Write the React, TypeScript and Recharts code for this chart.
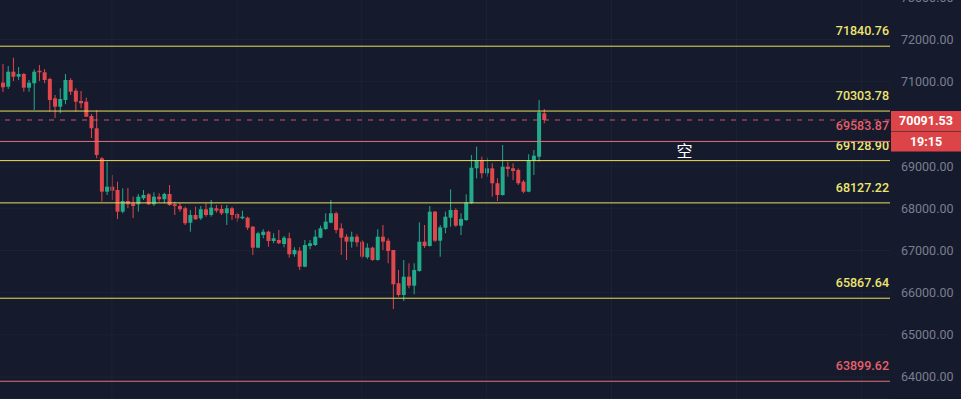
import { ComposedChart, Bar, XAxis, YAxis, CartesianGrid, ReferenceLine, ReferenceDot } from 'recharts'

const opens = [
  70976, 70881, 71237, 71118, 71182, 70858, 70962, 71260, 71222, 71064,
  70606, 70407, 70566, 71040, 70786, 70542, 70526, 70187, 69895, 69184,
  68393, 68511, 68433, 67919, 68172, 68118, 68094, 68236, 68331, 68094,
  68274, 68213, 68338, 68094, 68054, 67999, 67658, 67840, 67762, 67976,
  67840, 67999, 67983, 67881, 67999, 67864, 67762, 67777, 67563, 67066,
  67366, 67445, 67224, 67248, 67153, 67288, 66909, 66994, 66615, 67106,
  67129, 67303, 67509, 67658, 67881, 67525, 67326, 67208, 67326, 67208,
  66838, 67066, 66774, 67326, 67231, 67011, 66222, 65944, 66378, 66165,
  66513, 67208, 67106, 67919, 67231, 67540, 67777, 67959, 67587, 67722,
  68118, 68947, 69144, 68829, 68947, 68592, 68314, 68985, 68947, 68907,
  68630, 68393, 69120, 69222, 70251,
]
const closes = [
  70867, 71237, 71118, 71182, 70858, 70976, 71237, 71222, 71040, 70566,
  70407, 70590, 71040, 70763, 70526, 70488, 70170, 69895, 69262, 68393,
  68511, 68416, 67919, 68172, 68094, 68054, 68274, 68314, 68094, 68274,
  68213, 68338, 68077, 68054, 67976, 67644, 67840, 67739, 67976, 67840,
  68014, 67942, 67881, 67999, 67840, 67762, 67800, 67540, 67066, 67407,
  67445, 67224, 67288, 67170, 67303, 66909, 67011, 66615, 67129, 67170,
  67326, 67525, 67682, 67881, 67485, 67303, 67208, 67326, 67193, 66852,
  67066, 66774, 67326, 67208, 66987, 66198, 65944, 66378, 66165, 66537,
  67208, 67106, 67919, 67231, 67549, 67800, 67959, 67587, 67746, 68141,
  68962, 69144, 68829, 68947, 68592, 68314, 68985, 68931, 68883, 68592,
  68393, 69144, 69246, 70274, 70091.53,
]
const highs = [
  71419, 71372, 71569, 71348, 71206, 71040, 71294, 71395, 71301, 71095,
  70684, 70843, 71182, 71080, 70843, 70779, 70621, 70234, 70329, 69215,
  69104, 68788, 68630, 68473, 68480, 68274, 68338, 68433, 68362, 68378,
  68355, 68369, 68551, 68156, 68118, 68037, 67959, 68037, 68054, 68118,
  68196, 68077, 68077, 68077, 68037, 67895, 67942, 67800, 67580, 67445,
  67502, 67468, 67407, 67485, 67343, 67421, 67075, 67075, 67248, 67248,
  67485, 67587, 67881, 68196, 67919, 67644, 67383, 67445, 67383, 67248,
  67170, 67089, 67502, 67603, 67288, 67011, 66537, 66774, 66696, 66696,
  67667, 67603, 68054, 67935, 67603, 67919, 68450, 67999, 67881, 68331,
  69262, 69459, 69222, 69199, 69066, 68710, 69499, 69104, 69066, 68947,
  68670, 69279, 69381, 70566, 70353,
]
const lows = [
  70756, 70827, 71016, 71040, 70763, 70763, 70329, 71016, 70962, 70289,
  70139, 70251, 70464, 70684, 70289, 70369, 70163, 69665, 69184, 68156,
  68314, 68196, 67746, 67881, 68006, 67769, 67919, 68196, 68077, 68054,
  68156, 68118, 68054, 67840, 67919, 67603, 67445, 67722, 67722, 67800,
  67800, 67895, 67840, 67603, 67722, 67682, 67739, 67485, 66892, 67051,
  67288, 67089, 67170, 67153, 67075, 66829, 66852, 66537, 66601, 67028,
  67106, 67288, 67485, 67644, 67407, 66892, 66774, 67066, 67089, 66814,
  66798, 66757, 66757, 67011, 66696, 65613, 65904, 65802, 66103, 65961,
  66497, 67058, 67090, 67201, 66852, 67407, 67563, 67563, 67366, 67698,
  68100, 68710, 68710, 68748, 68274, 68172, 68300, 68748, 68670, 68551,
  68355, 68380, 68788, 69104, 70014,
]

const yellowLevels = [71840.76, 70303.78, 69128.9, 68127.22, 65867.64]
const redLevels = [69583.87, 63899.62]
const lastPrice = 70091.53
const countdown = '19:15'
// 70000 sits under the price tag, so its label is not shown
const priceTicks = [64000, 65000, 66000, 67000, 68000, 69000, 71000, 72000, 73000]
const slotCount = 171
const gridCandles = [21, 45, 69, 93, 117, 141, 165]
const signalText = '空'
const signalSlot = 131
const signalPrice = 69381

const BG = '#151a2c'
const GRID = '#1d2235'
const UP = '#22ab8a'
const DOWN = '#e0474c'
const YELLOW = '#ece060'
const YELLOW_TXT = '#eee672'
const RED_LINE = '#e07378'
const RED_TXT = '#e6606a'
const TAG = '#dc4448'
const FONT = 'Roboto, "Noto Sans", sans-serif'

const data = Array.from({ length: slotCount }, (_, i) =>
  i < opens.length
    ? { i, open: opens[i], close: closes[i], high: highs[i], low: lows[i], range: [lows[i], highs[i]] }
    : { i }
)

function Candle(props: any) {
  const { x, y, width, height, payload } = props
  if (!payload || payload.open == null) return null
  const { open, close, high, low } = payload
  const top = Math.min(y, y + height)
  const h = Math.abs(height)
  const k = h / (high - low || 1)
  const py = (p: number) => top + (high - p) * k
  const color = close >= open ? UP : DOWN
  const cx = x + width / 2
  const bt = py(Math.max(open, close))
  const bh = Math.max(1, Math.abs(open - close) * k)
  return (
    <g>
      <line x1={cx} x2={cx} y1={top} y2={top + h} stroke={color} strokeWidth={1} />
      <rect x={x} y={bt} width={width} height={bh} fill={color} />
    </g>
  )
}

const levelLabel = (text: string, color: string) => (p: any) => {
  const vb = p.viewBox
  return (
    <text x={vb.x + vb.width - 1} y={vb.y - 11} textAnchor="end" fill={color} fontSize={12.5} fontWeight={500} fontFamily={FONT}>
      {text}
    </text>
  )
}

const priceTag = (p: any) => {
  const vb = p.viewBox
  const ax = vb.x + vb.width
  return (
    <g>
      <rect x={ax + 1} y={vb.y - 9} width={70} height={20} fill={TAG} />
      <rect x={ax + 1} y={vb.y + 11.5} width={70} height={20} fill={TAG} />
      <text x={ax + 36} y={vb.y + 4.5} textAnchor="middle" fill="#ffffff" fontSize={12.5} fontWeight={700} fontFamily={FONT}>
        {lastPrice.toFixed(2)}
      </text>
      <text x={ax + 36} y={vb.y + 26} textAnchor="middle" fill="#ffffff" fontSize={12.5} fontWeight={700} fontFamily={FONT}>
        {countdown}
      </text>
    </g>
  )
}

const signalLabel = (p: any) => {
  const vb = p.viewBox
  return (
    <text x={vb.x + vb.width / 2} y={vb.y + vb.height / 2} textAnchor="middle" dominantBaseline="central" fill="#ffffff" fontSize={16} fontFamily='"Noto Sans CJK SC", sans-serif'>
      {signalText}
    </text>
  )
}

export default function App() {
  return (
    <div style={{ position: 'fixed', left: 0, top: 0, width: 961, height: 399, overflow: 'hidden', background: BG }}>
      <div style={{ position: 'absolute', left: 0, top: -10 }}>
        <ComposedChart width={961} height={409} data={data} margin={{ top: 0, right: 0, left: 0, bottom: 0 }}>
          <CartesianGrid stroke={GRID} vertical={false} />
          <XAxis dataKey="i" type="category" hide />
          <YAxis
            orientation="right"
            width={71}
            domain={[63479, 73173]}
            allowDataOverflow
            ticks={priceTicks}
            tickFormatter={(v: number) => v.toFixed(2)}
            axisLine={false}
            tickLine={false}
            tickMargin={5}
            tick={{ fill: '#7a7f90', fontSize: 12.5, fontFamily: FONT }}
          />
          {gridCandles.map((g) => (
            <ReferenceLine key={'g' + g} x={g} stroke={GRID} />
          ))}
          <Bar dataKey="range" barSize={4} shape={(p: any) => <Candle {...p} />} isAnimationActive={false} />
          {yellowLevels.map((v) => (
            <ReferenceLine key={'y' + v} y={v} stroke={YELLOW} strokeWidth={1} label={levelLabel(v.toFixed(2), YELLOW_TXT)} />
          ))}
          {redLevels.map((v) => (
            <ReferenceLine key={'r' + v} y={v} stroke={RED_LINE} strokeWidth={1} label={levelLabel(v.toFixed(2), RED_TXT)} />
          ))}
          <ReferenceLine y={lastPrice} stroke="#d4506c" strokeDasharray="5 6" label={priceTag} />
          <ReferenceDot x={signalSlot} y={signalPrice} r={0} fill="none" stroke="none" label={signalLabel} />
        </ComposedChart>
      </div>
    </div>
  )
}
